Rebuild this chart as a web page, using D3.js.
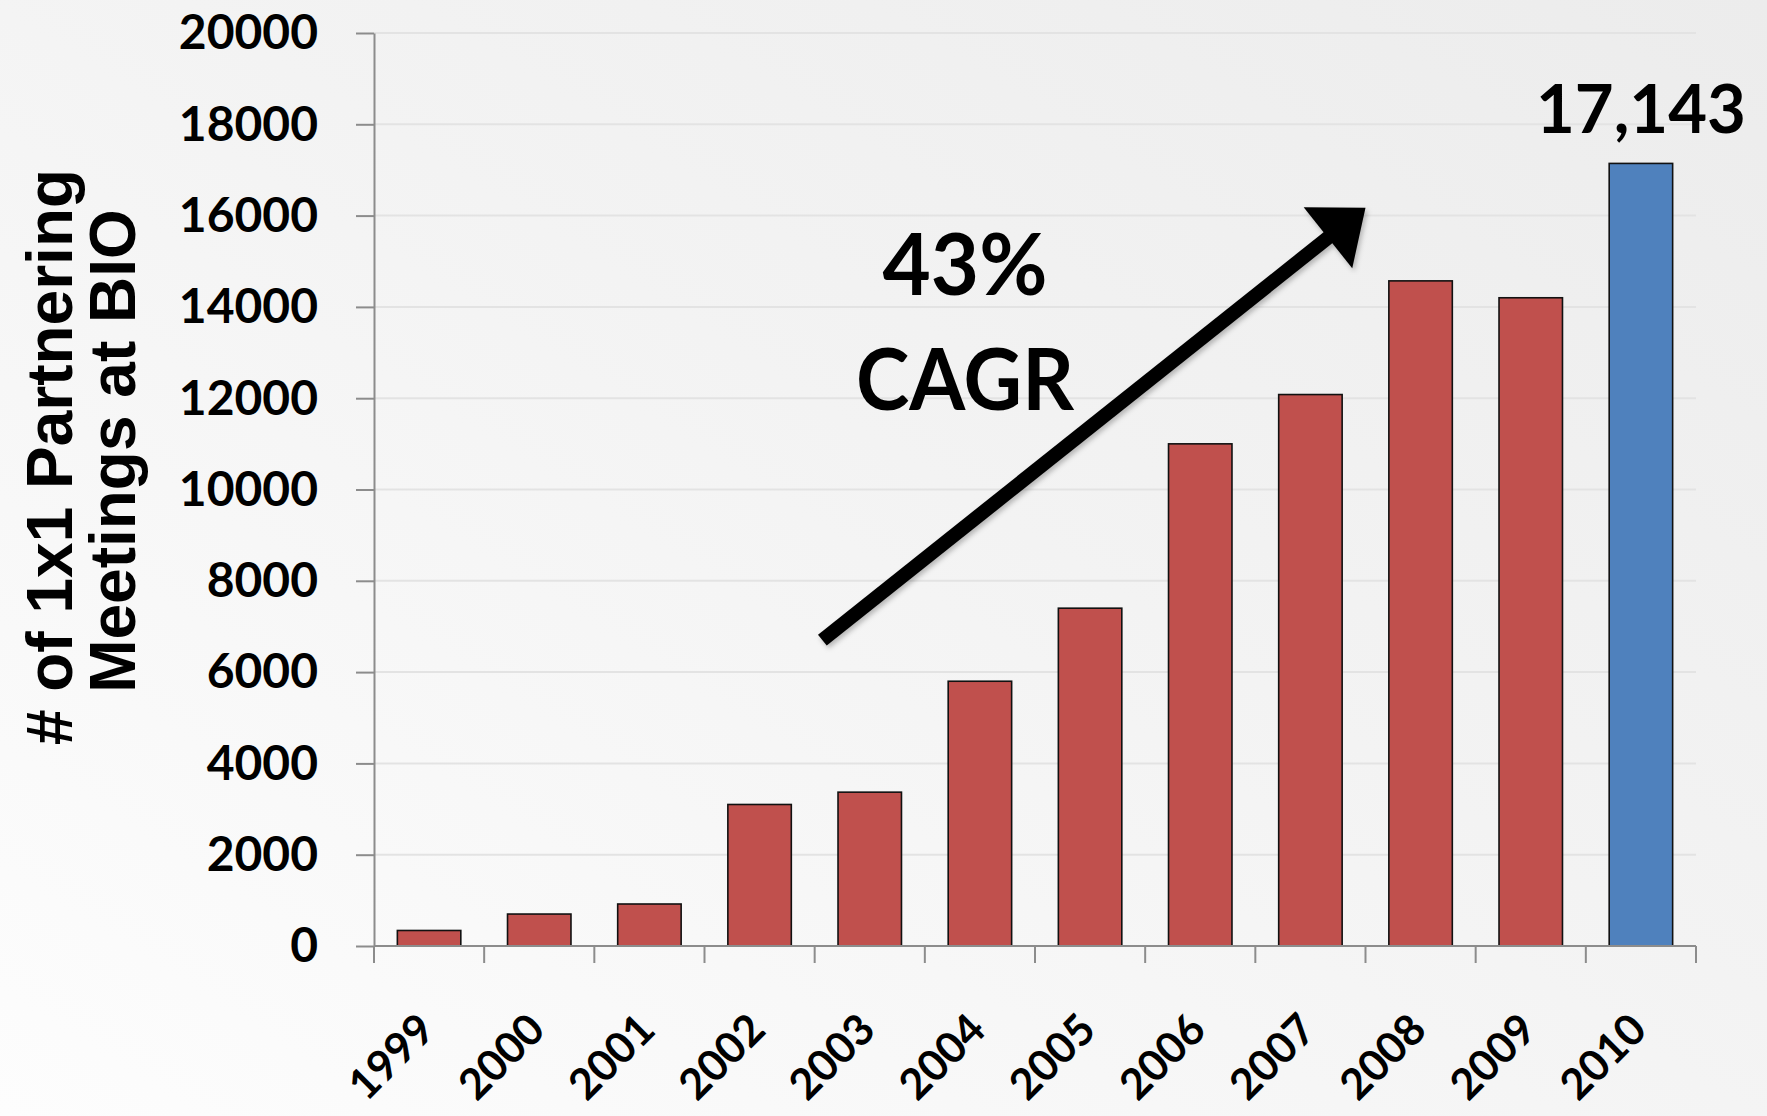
<!DOCTYPE html>
<html>
<head>
<meta charset="utf-8">
<script src="https://cdn.jsdelivr.net/npm/d3@7"></script>
<style>
  html, body { margin: 0; padding: 0; background: #f4f4f4; }
  svg { display: block; }
</style>
</head>
<body>
<svg id="chart" width="1767" height="1116"></svg>
<script>
// Partnering meetings held at the BIO convention, by year
const years = ["1999", "2000", "2001", "2002", "2003", "2004", "2005", "2006", "2007", "2008", "2009", "2010"];
const meetings = [340, 700, 920, 3100, 3370, 5800, 7400, 11000, 12080, 14570, 14200, 17143];
const yTicks = [0, 2000, 4000, 6000, 8000, 10000, 12000, 14000, 16000, 18000, 20000];
const highlightYear = "2010";
const yTitleLines = ["# of 1x1 Partnering", "Meetings at BIO"];
const growthLines = ["43%", "CAGR"];
// growth arrow endpoints: [band position (in category steps), meetings]
const arrowFrom = [4.07, 6700];
const arrowTo = [9.0, 16170];

(function draw() {
  const W = 1767, H = 1116;
  const svg = d3.select("#chart");

  // background wash
  const defs = svg.append("defs");
  const bg = defs.append("linearGradient").attr("id", "bg")
    .attr("x1", "100%").attr("y1", "0%").attr("x2", "0%").attr("y2", "100%");
  bg.append("stop").attr("offset", "0%").attr("stop-color", "#ececec");
  bg.append("stop").attr("offset", "45%").attr("stop-color", "#f3f3f3");
  bg.append("stop").attr("offset", "100%").attr("stop-color", "#fdfdfd");
  const shadow = defs.append("filter").attr("id", "shadow")
    .attr("x", "-20%").attr("y", "-20%").attr("width", "140%").attr("height", "140%");
  shadow.append("feDropShadow").attr("dx", 2).attr("dy", 3).attr("stdDeviation", 2.5)
    .attr("flood-color", "#000").attr("flood-opacity", 0.25);

  svg.append("rect").attr("width", W).attr("height", H).attr("fill", "url(#bg)");

  const plotLeft = 374, plotRight = 1696, plotTop = 33, plotBottom = 946;

  const x = d3.scaleBand().domain(years).range([plotLeft, plotRight])
    .paddingInner(0.424).paddingOuter(0.212);
  const y = d3.scaleLinear().domain([0, 20000]).range([plotBottom, plotTop]);
  const pos = d3.scaleLinear().domain([0, years.length]).range([plotLeft, plotRight]);

  // horizontal gridlines
  svg.append("g").selectAll("line")
    .data(yTicks.filter(d => d > 0))
    .join("line")
    .attr("x1", plotLeft).attr("x2", plotRight)
    .attr("y1", d => y(d)).attr("y2", d => y(d))
    .attr("stroke", "#e3e3e3").attr("stroke-width", 2);

  // bars
  svg.append("g").selectAll("rect")
    .data(years.map((yr, i) => ({ yr, v: meetings[i] })))
    .join("rect")
    .attr("x", d => x(d.yr))
    .attr("width", x.bandwidth())
    .attr("y", d => y(d.v))
    .attr("height", d => y(0) - y(d.v))
    .attr("fill", d => d.yr === highlightYear ? "#4F81BD" : "#C0504D")
    .attr("stroke", "#111").attr("stroke-width", 1.6);

  // y axis
  const yAxis = svg.append("g")
    .attr("transform", `translate(${plotLeft},0)`)
    .call(d3.axisLeft(y).tickValues(yTicks).tickSize(18).tickSizeOuter(0).tickPadding(38)
      .tickFormat(d3.format("d")));
  yAxis.select(".domain").attr("stroke", "#8c8c8c").attr("stroke-width", 2);
  yAxis.selectAll(".tick line").attr("stroke", "#8c8c8c").attr("stroke-width", 2);
  yAxis.selectAll(".tick text")
    .attr("font-family", "Lato, 'Noto Sans', sans-serif")
    .attr("font-weight", 700).attr("font-size", 48).attr("fill", "#000")
    .attr("dy", "0.33em");

  // x axis line and category boundary ticks
  svg.append("line")
    .attr("x1", plotLeft).attr("x2", plotRight).attr("y1", y(0)).attr("y2", y(0))
    .attr("stroke", "#8c8c8c").attr("stroke-width", 2);
  svg.append("g").selectAll("line")
    .data(d3.range(years.length + 1))
    .join("line")
    .attr("x1", d => pos(d)).attr("x2", d => pos(d))
    .attr("y1", y(0)).attr("y2", y(0) + 17)
    .attr("stroke", "#8c8c8c").attr("stroke-width", 2);

  // rotated year labels
  svg.append("g").selectAll("text")
    .data(years)
    .join("text")
    .attr("transform", d => `translate(${x(d) + x.bandwidth() / 2 + 8},${y(0) + 86}) rotate(-45)`)
    .attr("text-anchor", "end")
    .attr("font-family", "Lato, 'Noto Sans', sans-serif")
    .attr("font-weight", 700).attr("font-size", 43).attr("fill", "#000")
    .text(d => d);

  // y axis title (two lines, rotated)
  const titleX = [72, 135], titleY = [457, 451];
  svg.append("g").selectAll("text")
    .data(yTitleLines)
    .join("text")
    .attr("transform", (d, i) => `translate(${titleX[i]},${titleY[i]}) rotate(-90)`)
    .attr("text-anchor", "middle")
    .attr("font-family", "'Liberation Sans', Arial, sans-serif")
    .attr("font-weight", 700).attr("font-size", 64).attr("fill", "#000")
    .text(d => d);

  // value label on the highlighted bar
  const hiIdx = years.indexOf(highlightYear);
  svg.append("text")
    .attr("x", x(highlightYear) + x.bandwidth() / 2)
    .attr("y", y(meetings[hiIdx]) - 30)
    .attr("text-anchor", "middle")
    .attr("font-family", "Lato, 'Noto Sans', sans-serif")
    .attr("font-weight", 700).attr("font-size", 67).attr("fill", "#000")
    .text(d3.format(",")(meetings[hiIdx]));

  // growth arrow
  const x0 = pos(arrowFrom[0]), y0 = y(arrowFrom[1]);
  const x1 = pos(arrowTo[0]), y1 = y(arrowTo[1]);
  const len = Math.hypot(x1 - x0, y1 - y0);
  const ux = (x1 - x0) / len, uy = (y1 - y0) / len;
  const nx = -uy, ny = ux;
  const headLen = 48, headHalf = 39;
  const bx = x1 - ux * headLen, by = y1 - uy * headLen;
  const arrow = svg.append("g").attr("filter", "url(#shadow)");
  arrow.append("line")
    .attr("x1", x0).attr("y1", y0)
    .attr("x2", bx + ux * 4).attr("y2", by + uy * 4)
    .attr("stroke", "#000").attr("stroke-width", 14).attr("stroke-linecap", "butt");
  arrow.append("polygon")
    .attr("points", [[x1, y1], [bx + nx * headHalf, by + ny * headHalf], [bx - nx * headHalf, by - ny * headHalf]]
      .map(p => p.join(",")).join(" "))
    .attr("fill", "#000");

  // growth rate annotation
  const growthBase = [295, 410], growthWidth = [165, 218];
  svg.append("g").selectAll("text")
    .data(growthLines)
    .join("text")
    .attr("x", 965)
    .attr("y", (d, i) => growthBase[i])
    .attr("text-anchor", "middle")
    .attr("font-family", "Lato, 'Noto Sans', sans-serif")
    .attr("font-weight", 700).attr("font-size", 86).attr("fill", "#000")
    .attr("textLength", (d, i) => growthWidth[i])
    .attr("lengthAdjust", "spacingAndGlyphs")
    .text(d => d);
})();
</script>
</body>
</html>
